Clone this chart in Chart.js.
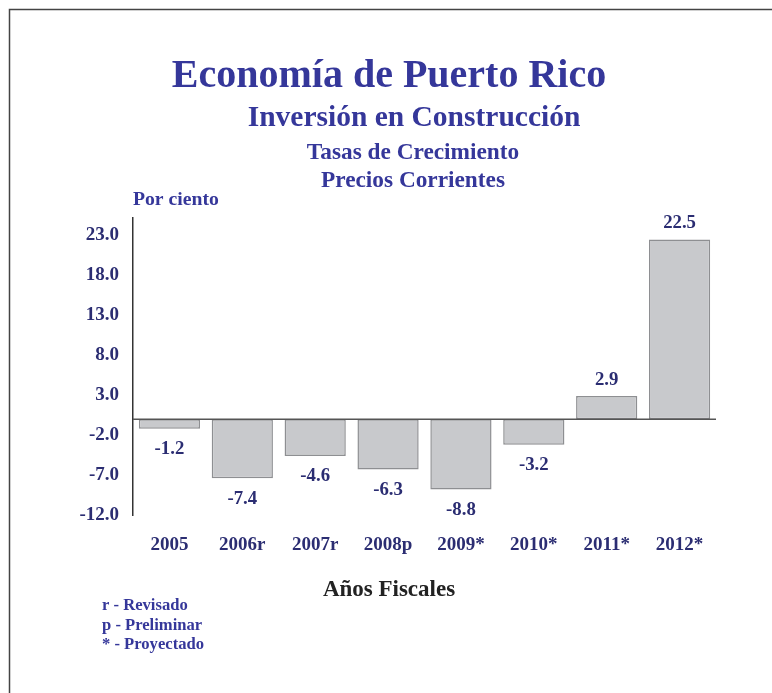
<!DOCTYPE html>
<html lang="es">
<head>
<meta charset="utf-8">
<title>Inversión en Construcción</title>
<script src="https://cdn.jsdelivr.net/npm/chart.js@4.4.1/dist/chart.umd.min.js"></script>
<style>
  html, body { margin: 0; padding: 0; background: #fff; }
  #wrap { position: relative; width: 772px; height: 693px; }
</style>
</head>
<body>
<div id="wrap"><canvas id="construccion-chart"></canvas></div>
<script>
// datos
const YEARS = ["2005", "2006r", "2007r", "2008p", "2009*", "2010*", "2011*", "2012*"];
const GROWTH = [-1.2, -7.4, -4.6, -6.3, -8.8, -3.2, 2.9, 22.5];
const Y_TICKS = [-12, -7, -2, 3, 8, 13, 18, 23];

const TITLE = "Economía de Puerto Rico";
const SUBTITLE = "Inversión en Construcción";
const SUBTITLE_LINES = ["Tasas de Crecimiento", "Precios Corrientes"];
const Y_TITLE = "Por ciento";
const X_TITLE = "Años Fiscales";
const NOTES = ["r - Revisado", "p - Preliminar", "* - Proyectado"];

const SERIF = "'Liberation Serif', 'Times New Roman', Times, serif";
const NAVY = "#35379a";
const INK = "#2b2d72";

// marco, titulos y notas
const decorations = {
  id: "decorations",
  afterDraw(chart) {
    const ctx = chart.ctx;
    ctx.save();

    ctx.strokeStyle = "#444";
    ctx.lineWidth = 1.5;
    ctx.beginPath();
    ctx.moveTo(9.5, 693);
    ctx.lineTo(9.5, 9.5);
    ctx.lineTo(772, 9.5);
    ctx.stroke();

    ctx.fillStyle = NAVY;
    ctx.textAlign = "center";
    ctx.textBaseline = "alphabetic";
    ctx.font = "bold 40px " + SERIF;
    ctx.fillText(TITLE, 389, 87);
    ctx.font = "bold 29.5px " + SERIF;
    ctx.fillText(SUBTITLE, 414, 126);
    ctx.font = "bold 23.3px " + SERIF;
    ctx.fillText(SUBTITLE_LINES[0], 413, 159);
    ctx.fillText(SUBTITLE_LINES[1], 413, 187);

    ctx.textAlign = "left";
    ctx.font = "bold 19.7px " + SERIF;
    ctx.fillText(Y_TITLE, 133, 205);

    ctx.fillStyle = "#222";
    ctx.textAlign = "center";
    ctx.font = "bold 23px " + SERIF;
    ctx.fillText(X_TITLE, 389, 596);

    ctx.fillStyle = NAVY;
    ctx.textAlign = "left";
    ctx.font = "bold 16.6px " + SERIF;
    NOTES.forEach((t, i) => ctx.fillText(t, 102, 610 + i * 19.5));

    ctx.restore();
  },
};

// linea del cero y valores de cada barra
const barValues = {
  id: "barValues",
  afterDatasetsDraw(chart) {
    const ctx = chart.ctx;
    const y = chart.scales.y;
    const area = chart.chartArea;
    const zero = y.getPixelForValue(0);

    ctx.save();
    ctx.strokeStyle = "#555";
    ctx.lineWidth = 1.5;
    ctx.beginPath();
    ctx.moveTo(area.left, zero);
    ctx.lineTo(area.right, zero);
    ctx.stroke();

    ctx.fillStyle = INK;
    ctx.font = "bold 18.8px " + SERIF;
    ctx.textAlign = "center";
    ctx.textBaseline = "middle";
    const meta = chart.getDatasetMeta(0);
    meta.data.forEach((bar, i) => {
      const v = GROWTH[i];
      const ty = v < 0 ? bar.y + 20.5 : bar.y - 16;
      ctx.fillText(v.toFixed(1), bar.x, ty);
    });
    ctx.restore();
  },
};

const ctx = document.getElementById("construccion-chart");

new Chart(ctx, {
  type: "bar",
  data: {
    labels: YEARS,
    datasets: [
      {
        label: SUBTITLE,
        data: GROWTH,
        backgroundColor: "#c8c9cc",
        borderColor: "#8e8f92",
        borderWidth: 1.5,
        borderSkipped: false,
        barPercentage: 0.84,
        categoryPercentage: 1,
      },
    ],
  },
  options: {
    responsive: true,
    maintainAspectRatio: false,
    animation: false,
    layout: {
      padding: { top: 218, right: 56, left: 0, bottom: 0 },
    },
    plugins: {
      legend: { display: false },
      title: { display: false },
      tooltip: { enabled: false },
    },
    scales: {
      x: {
        grid: { display: false, drawTicks: false },
        border: { display: false },
        ticks: {
          color: INK,
          font: { family: SERIF, size: 19, weight: "bold" },
          padding: 19,
          maxRotation: 0,
        },
        afterFit(scale) {
          scale.height = 178;
        },
      },
      y: {
        min: -12,
        max: 25.2,
        grid: { display: false, drawTicks: false },
        border: { display: true, color: "#333", width: 1.5 },
        ticks: {
          color: INK,
          font: { family: SERIF, size: 19, weight: "bold" },
          padding: 14,
          callback: (value) => value.toFixed(1),
        },
        afterBuildTicks(scale) {
          scale.ticks = Y_TICKS.map((v) => ({ value: v }));
        },
        afterFit(scale) {
          scale.width = 133;
        },
      },
    },
  },
  plugins: [decorations, barValues],
});
</script>
</body>
</html>
